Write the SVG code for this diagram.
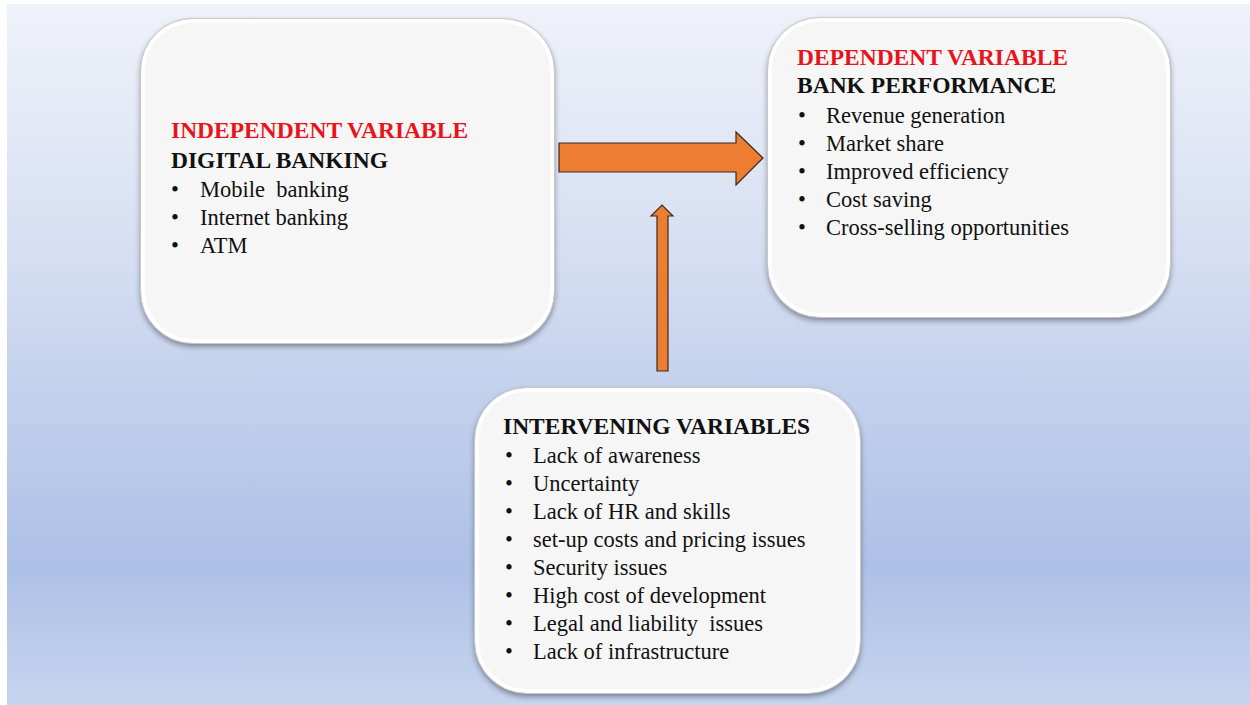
<svg xmlns="http://www.w3.org/2000/svg" width="1250" height="705" viewBox="0 0 1250 705">
  <defs>
    <linearGradient id="bg" x1="0" y1="0" x2="0" y2="1">
      <stop offset="0" stop-color="#eff2fa"/>
      <stop offset="0.35" stop-color="#d6dff2"/>
      <stop offset="0.8" stop-color="#adc0e6"/>
      <stop offset="1" stop-color="#c6d4ee"/>
    </linearGradient>
    <filter id="shadow" x="-10%" y="-10%" width="120%" height="125%">
      <feGaussianBlur in="SourceAlpha" stdDeviation="3"/>
      <feOffset dx="0" dy="3" result="b"/>
      <feComponentTransfer><feFuncA type="linear" slope="0.45"/></feComponentTransfer>
      <feMerge><feMergeNode/><feMergeNode in="SourceGraphic"/></feMerge>
    </filter>
  </defs>
  <style>
    .box { fill: #f6f6f6; stroke: #ffffff; stroke-width: 4; filter: url(#shadow); }
    .rim { fill: none; stroke: #c8c8c8; stroke-width: 1; }
    .t { font-family: "Liberation Serif", "Times New Roman", serif; font-size: 22.5px; fill: #111; white-space: pre; }
    .h { font-family: "Liberation Serif", "Times New Roman", serif; font-size: 23.5px; font-weight: bold; fill: #111; }
    .red { fill: #e8141b; }
    .arrow { fill: #ed7d31; stroke: #3a2a20; stroke-width: 1.2; }
  </style>

  <!-- backdrop -->
  <rect width="1250" height="705" fill="#ffffff"/>
  <rect x="7" y="4" width="1243" height="701" fill="url(#bg)"/>

  <!-- connectors -->
  <g id="connectors">
    <path class="arrow" d="M559 143 H736 V132 L763 158 L736 185 V172 H559 Z"/>
    <path class="arrow" d="M657 371 V216 H651 L662 205 L673 216 H668 V371 Z"/>
  </g>

  <!-- independent variable -->
  <g id="node-independent">
    <rect class="box" x="143" y="21" width="409" height="320" rx="50"/>
    <rect class="rim" x="140.5" y="18.5" width="414" height="325" rx="52"/>
    <text class="h red" x="171" y="138">INDEPENDENT VARIABLE</text>
    <text class="h" x="171" y="168">DIGITAL BANKING</text>
    <text class="t" x="171" y="197">•</text><text class="t" x="200" y="197" xml:space="preserve">Mobile  banking</text>
    <text class="t" x="171" y="225">•</text><text class="t" x="200" y="225">Internet banking</text>
    <text class="t" x="171" y="253">•</text><text class="t" x="200" y="253">ATM</text>
  </g>

  <!-- dependent variable -->
  <g id="node-dependent">
    <rect class="box" x="770" y="20" width="398" height="295" rx="50"/>
    <rect class="rim" x="767.5" y="17.5" width="403" height="300" rx="52"/>
    <text class="h red" x="797" y="65">DEPENDENT VARIABLE</text>
    <text class="h" x="797" y="93">BANK PERFORMANCE</text>
    <text class="t" x="798" y="123">•</text><text class="t" x="826" y="123">Revenue generation</text>
    <text class="t" x="798" y="151">•</text><text class="t" x="826" y="151">Market share</text>
    <text class="t" x="798" y="179">•</text><text class="t" x="826" y="179">Improved efficiency</text>
    <text class="t" x="798" y="207">•</text><text class="t" x="826" y="207">Cost saving</text>
    <text class="t" x="798" y="235">•</text><text class="t" x="826" y="235">Cross-selling opportunities</text>
  </g>

  <!-- intervening variables -->
  <g id="node-intervening">
    <rect class="box" x="477" y="390" width="381" height="301" rx="50"/>
    <rect class="rim" x="474.5" y="387.5" width="386" height="306" rx="52"/>
    <text class="h" x="503" y="434">INTERVENING VARIABLES</text>
    <text class="t" x="505" y="463">•</text><text class="t" x="533" y="463">Lack of awareness</text>
    <text class="t" x="505" y="491">•</text><text class="t" x="533" y="491">Uncertainty</text>
    <text class="t" x="505" y="519">•</text><text class="t" x="533" y="519">Lack of HR and skills</text>
    <text class="t" x="505" y="547">•</text><text class="t" x="533" y="547">set-up costs and pricing issues</text>
    <text class="t" x="505" y="575">•</text><text class="t" x="533" y="575">Security issues</text>
    <text class="t" x="505" y="603">•</text><text class="t" x="533" y="603">High cost of development</text>
    <text class="t" x="505" y="631">•</text><text class="t" x="533" y="631" xml:space="preserve">Legal and liability  issues</text>
    <text class="t" x="505" y="659">•</text><text class="t" x="533" y="659">Lack of infrastructure</text>
  </g>
</svg>
